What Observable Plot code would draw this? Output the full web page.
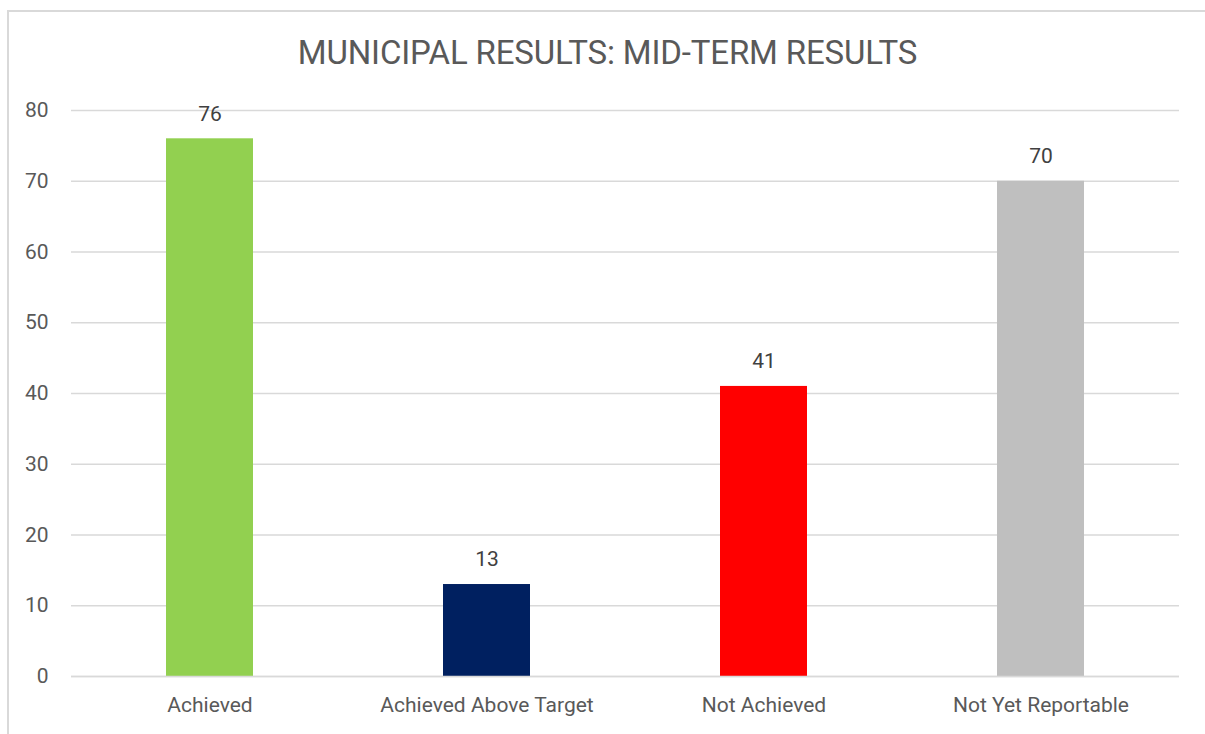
<!DOCTYPE html>
<html>
<head>
<meta charset="utf-8">
<script src="https://cdn.jsdelivr.net/npm/d3@7"></script>
<script src="https://cdn.jsdelivr.net/npm/@observablehq/plot@0.6"></script>
<style>
  html, body { margin: 0; padding: 0; background: #fff; }
  #wrap { position: relative; width: 1205px; height: 734px; overflow: hidden; font-family: Roboto, "Noto Sans", sans-serif; }
  #frame { position: absolute; left: 7px; top: 10px; width: 1300px; height: 800px; border: 2px solid #d9d9d9; box-sizing: border-box; }
  #title { position: absolute; left: 5px; top: 30px; width: 1205px; height: 50px; text-align: center; font-size: 33px; color: #595959; line-height: 46px; letter-spacing: -0.15px; }
  #chart { position: absolute; left: 0; top: 80px; }
</style>
</head>
<body>
<div id="wrap">
  <div id="frame"></div>
  <div id="title">MUNICIPAL RESULTS: MID-TERM RESULTS</div>
  <div id="chart"></div>
</div>
<script>
const categories = ["Achieved", "Achieved Above Target", "Not Achieved", "Not Yet Reportable"];
const values = [76, 13, 41, 70];
const colors = ["#92D050", "#002060", "#FF0000", "#BFBFBF"];
const yTicks = [0, 10, 20, 30, 40, 50, 60, 70, 80];

const data = categories.map((c, i) => ({category: c, value: values[i], color: colors[i]}));

const chart = Plot.plot({
  width: 1205,
  height: 654,
  marginTop: 30,
  marginBottom: 58,
  marginLeft: 71,
  marginRight: 26,
  style: {fontFamily: "Roboto, 'Noto Sans', sans-serif", fontSize: "21px", color: "#595959", background: "transparent"},
  x: {domain: categories, paddingInner: 0.686, paddingOuter: 0.343, label: null},
  y: {domain: [0, 80], ticks: yTicks, label: null},
  marks: [
    Plot.gridY(yTicks, {stroke: "#d9d9d9", strokeOpacity: 1, strokeWidth: 1.5}),
    Plot.barY(data, {x: "category", y: "value", fill: "color"}),
    Plot.ruleY([0], {stroke: "#d9d9d9", strokeWidth: 1.5}),
    Plot.text(data, {x: "category", y: "value", text: d => String(d.value), dy: -25, fill: "#404040", fontSize: 21}),
    Plot.axisY(yTicks, {tickSize: 0, tickPadding: 23, fontSize: 21, fill: "#595959"}),
    Plot.axisX({tickSize: 0, tickPadding: 21, fontSize: 21, fill: "#595959"})
  ]
});
document.getElementById("chart").appendChild(chart);
</script>
</body>
</html>
